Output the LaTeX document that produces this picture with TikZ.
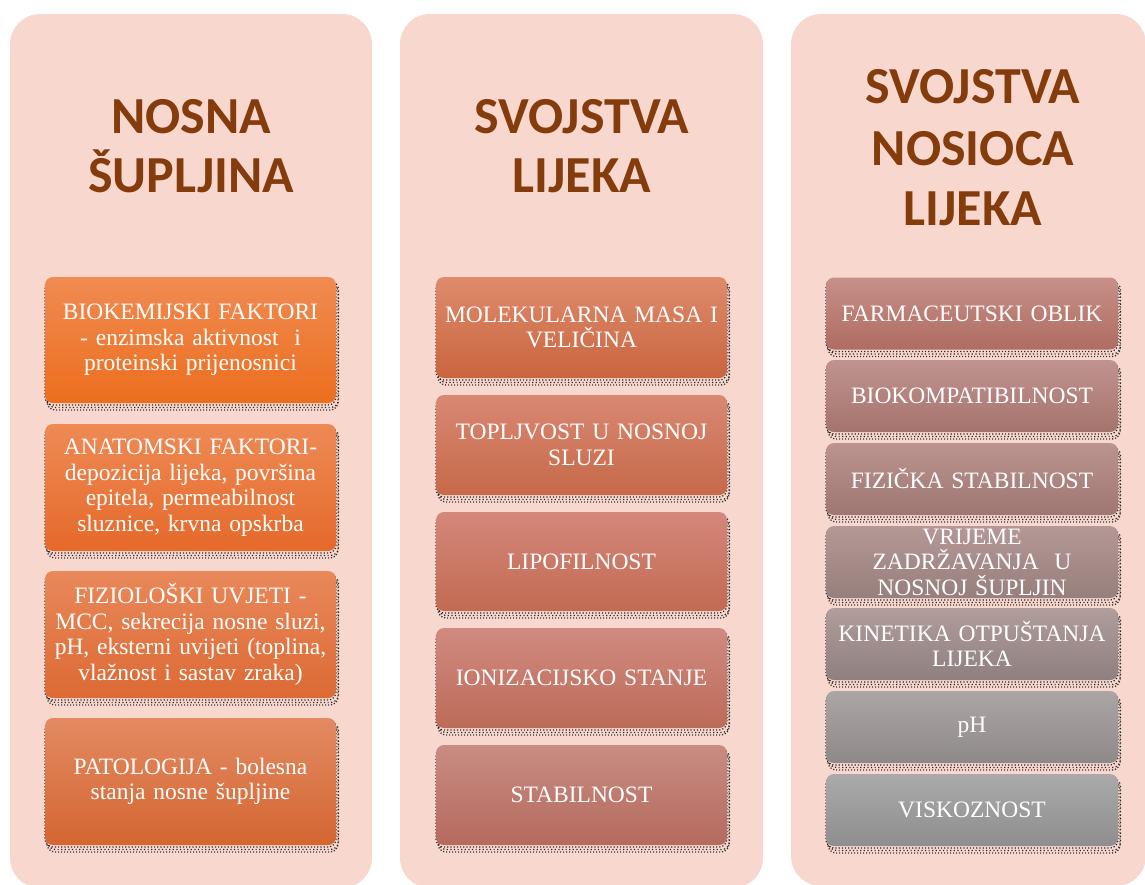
\documentclass[tikz,border=0pt]{standalone}
\usepackage{fontspec}
\setmainfont{Liberation Serif}
\newfontfamily\titlefont{Carlito}
\definecolor{panelc}{HTML}{F8D8CE}
\definecolor{titlec}{HTML}{843C0C}
\definecolor{l1t}{HTML}{F08B52}\definecolor{l1b}{HTML}{EC6E1E}
\definecolor{l2t}{HTML}{EE8A55}\definecolor{l2b}{HTML}{E5692A}
\definecolor{l3t}{HTML}{E9885A}\definecolor{l3b}{HTML}{DC6A34}
\definecolor{l4t}{HTML}{E38A62}\definecolor{l4b}{HTML}{D46631}
\definecolor{m1t}{HTML}{DE8B6C}\definecolor{m1b}{HTML}{C9653F}
\definecolor{m2t}{HTML}{D98874}\definecolor{m2b}{HTML}{C66948}
\definecolor{m3t}{HTML}{D4877B}\definecolor{m3b}{HTML}{C26A52}
\definecolor{m4t}{HTML}{D08A80}\definecolor{m4b}{HTML}{BC6B58}
\definecolor{m5t}{HTML}{C98C82}\definecolor{m5b}{HTML}{B56A5E}
\definecolor{r1t}{HTML}{C69088}\definecolor{r1b}{HTML}{AF6C62}
\definecolor{r2t}{HTML}{C09390}\definecolor{r2b}{HTML}{A5736C}
\definecolor{r3t}{HTML}{BB9490}\definecolor{r3b}{HTML}{9E7672}
\definecolor{r4t}{HTML}{B59895}\definecolor{r4b}{HTML}{967F7C}
\definecolor{r5t}{HTML}{B09D9C}\definecolor{r5b}{HTML}{8F7F7F}
\definecolor{r6t}{HTML}{ACA5A5}\definecolor{r6b}{HTML}{8E8989}
\definecolor{r7t}{HTML}{AAAAAA}\definecolor{r7b}{HTML}{8E8E8E}
\begin{document}
\begin{tikzpicture}[x=1pt,y=-1pt,
  panel/.style={fill=panelc, rounded corners=30pt},
  ttl/.style={anchor=base, text=titlec, font=\titlefont\bfseries\fontsize{52}{61}\selectfont, inner sep=0pt},
  card/.style={rounded corners=8pt, inner sep=0pt, text=white, align=center, text width=286pt,
    font=\fontsize{23.5}{25.5}\selectfont,
    preaction={draw=black!80, dash pattern=on 1.2pt off 1.8pt, line width=1.3pt, transform canvas={xshift=2pt,yshift=-7pt}},
    preaction={draw=black!85, dash pattern=on 1.2pt off 2.4pt, dash phase=1pt, line width=1.3pt, transform canvas={xshift=2.5pt,yshift=-4.5pt}},
    preaction={draw=black!85, dotted, line width=1.2pt, transform canvas={xshift=0pt,yshift=-2pt}}},
  lcard/.style={card, minimum width=291pt},
  rcard/.style={card, minimum width=292pt, minimum height=72pt},
  sh/.style={top color=#1t, bottom color=#1b}
]
\useasboundingbox (0,0) rectangle (1145,884);
\clip (0,0) rectangle (1145,884);
% panels
\fill[panel] (10,14) rectangle (372,888);
\fill[panel] (400,14) rectangle (763,888);
\fill[panel] (791,14) rectangle (1146,886);
% titles
\node[ttl] (t1a) at (191,133) {NOSNA};
\node[ttl] (t1b) at (191,192) {ŠUPLJINA};
\node[ttl] (t2a) at (582,133) {SVOJSTVA};
\node[ttl] (t2b) at (582,192) {LIJEKA};
\node[ttl] (t3a) at (973,103) {SVOJSTVA};
\node[ttl] (t3b) at (973,165) {NOSIOCA};
\node[ttl] (t3c) at (973,225) {LIJEKA};
% left column
\node[lcard, minimum height=126pt, sh=l1] (l1) at (190.5,340) {BIOKEMIJSKI FAKTORI\\- enzimska aktivnost\ \ i\\proteinski prijenosnici};
\node[lcard, minimum height=127pt, sh=l2] (l2) at (190.5,487.5) {ANATOMSKI FAKTORI-\\depozicija lijeka, površina\\epitela, permeabilnost\\sluznice, krvna opskrba};
\node[lcard, minimum height=127pt, sh=l3] (l3) at (190.5,634.5) {FIZIOLOŠKI UVJETI -\\MCC, sekrecija nosne sluzi,\\pH, eksterni uvijeti (toplina,\\vlažnost i sastav zraka)};
\node[lcard, minimum height=127pt, sh=l4] (l4) at (190.5,781.5) {PATOLOGIJA - bolesna\\stanja nosne šupljine};
% middle column
\node[lcard, minimum height=101pt, sh=m1] (m1) at (581.5,327.5) {MOLEKULARNA MASA I\\VELIČINA};
\node[lcard, minimum height=100pt, sh=m2] (m2) at (581.5,445) {TOPLJVOST U NOSNOJ\\SLUZI};
\node[lcard, minimum height=99pt, sh=m3] (m3) at (581.5,561.5) {LIPOFILNOST};
\node[lcard, minimum height=100pt, sh=m4] (m4) at (581.5,678) {IONIZACIJSKO STANJE};
\node[lcard, minimum height=100pt, sh=m5] (m5) at (581.5,795) {STABILNOST};
% right column
\node[rcard, sh=r1] (r1) at (972,313.5) {FARMACEUTSKI OBLIK};
\node[rcard, sh=r2] (r2) at (972,396) {BIOKOMPATIBILNOST};
\node[rcard, sh=r3] (r3) at (972,479) {FIZIČKA STABILNOST};
\node[rcard, sh=r4] (r4) at (972,562) {VRIJEME\\ZADRŽAVANJA\ \ U\\NOSNOJ ŠUPLJIN};
\node[rcard, sh=r5] (r5) at (972,644) {KINETIKA OTPUŠTANJA\\LIJEKA};
\node[rcard, sh=r6] (r6) at (972,727) {pH};
\node[rcard, sh=r7] (r7) at (972,810) {VISKOZNOST};
\end{tikzpicture}
\end{document}
